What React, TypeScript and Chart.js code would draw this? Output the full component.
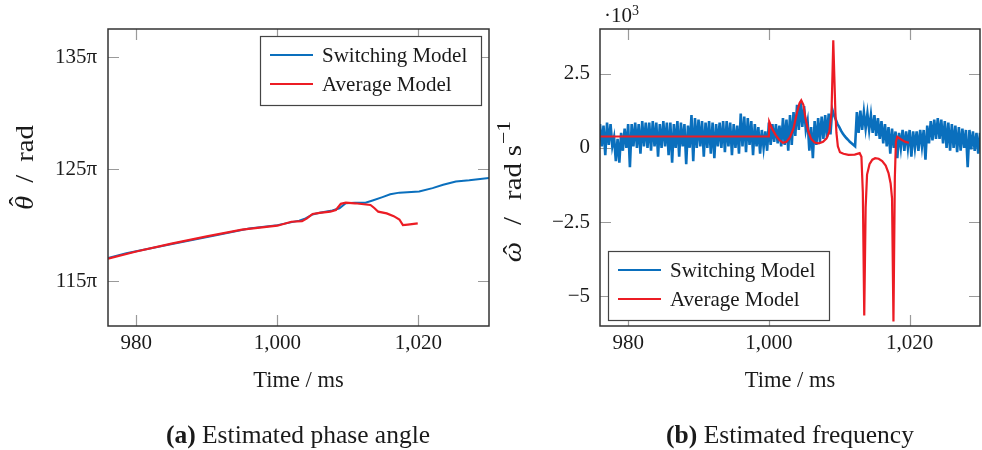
import React, { useEffect, useRef } from "react";
import { Chart, registerables } from "chart.js";

Chart.register(...registerables);

// ---------- shared ----------
const xTicks = [980, 1000, 1020];
const xMin = 976;
const xMax = 1030;

// ---------- (a) phase angle (units of pi) ----------
const phaseYTicks = [115, 125, 135];
const phaseYMin = 111;
const phaseYMax = 137.5;

const phaseSwitchT = [976, 978.6, 984.2, 991.3, 996, 1000, 1003.1, 1004, 1005, 1006, 1007.8, 1008.8, 1009.7, 1011, 1012.5, 1013.5, 1014.9, 1016, 1017.3, 1020.1, 1022, 1023.5, 1025.3, 1027.2, 1030];
const phaseSwitchV = [117.06, 117.5, 118.2, 119.1, 119.7, 120.0, 120.4, 120.6, 120.95, 121.1, 121.3, 121.5, 121.95, 122.0, 122.0, 122.2, 122.5, 122.75, 122.9, 123.0, 123.3, 123.6, 123.9, 124.0, 124.2];

const phaseAvgT = [976, 980, 985, 990, 995, 1000, 1002, 1003.5, 1004.2, 1005, 1006, 1007.5, 1008.3, 1009, 1009.7, 1011, 1013.2, 1013.7, 1014.3, 1015.5, 1016.5, 1017.3, 1017.8, 1018.5, 1019.9];
const phaseAvgV = [117.0, 117.65, 118.35, 119.0, 119.6, 119.95, 120.3, 120.35, 120.6, 121.0, 121.1, 121.2, 121.35, 121.9, 122.0, 121.95, 121.8, 121.55, 121.2, 121.05, 120.8, 120.5, 120.0, 120.05, 120.15];

// ---------- (b) frequency (x 10^3 rad/s) ----------
const freqYTicks = [-5, -2.5, 0, 2.5];
const freqYMin = -6;
const freqYMax = 4;

const freqSwitchStart = 976;
const freqSwitchStep = 0.25;
const freqSwitchV = [
  0.8, 0.05, 0.75, -0.25,
  0.85, 0.1, 0.8, 0.05,
  0.35, -0.45, 0.3, -0.5,
  0.5, -0.1, 0.65, 0.0,
  0.8, -0.65, 0.8, 0.05,
  0.85, 0.0, 0.8, -0.2,
  0.9, 0.05, 0.85, 0.0,
  0.85, -0.1, 0.9, 0.05,
  0.85, -0.3, 0.8, 0.0,
  0.9, 0.05, 0.85, -0.25,
  0.85, -0.5, 0.8, 0.0,
  0.9, -0.3, 0.85, 0.05,
  0.8, -0.55, 0.75, 0.0,
  1.1, -0.45, 1.0, 0.0,
  0.95, 0.05, 0.9, -0.3,
  0.85, 0.0, 0.9, -0.2,
  0.85, -0.35, 0.8, 0.05,
  0.85, 0.0, 0.9, -0.15,
  0.9, 0.05, 0.85, -0.25,
  0.8, 0.0, 0.75, -0.2,
  1.15, 0.05, 1.05, -0.15,
  1.0, 0.1, 0.9, -0.25,
  0.8, 0.05, 0.7, -0.2,
  0.6, 0.0, 0.55, -0.1,
  0.85, 0.1, 0.8, 0.2,
  0.8, 0.15, 0.75, 0.05,
  1.0, 0.1, 0.95, -0.1,
  1.1, 0.1, 1.2, 0.4,
  1.45, 0.6, 1.55, 0.7,
  1.4, 0.6, 0.9, -0.1,
  0.7, -0.35, 0.9, 0.1,
  1.0, 0.2, 1.05, 0.3,
  1.1, 0.35, 1.15, 0.45,
  1.3, 1.1, 0.95, 0.8,
  0.7, 0.58, 0.48, 0.4,
  0.33, 0.27, 0.2, 0.15,
  0.1, 0.05, 1.2, 0.5,
  1.25, 0.6, 1.2, 0.65,
  1.15, 0.6, 1.1, 0.5,
  1.1, 0.4, 1.0, 0.3,
  0.9, 0.15, 0.8, 0.05,
  0.7, -0.2, 0.65, 0.0,
  0.55, -0.35, 0.5, 0.0,
  0.6, -0.1, 0.55, 0.0,
  0.6, -0.3, 0.55, 0.0,
  0.55, -0.1, 0.6, 0.05,
  0.6, -0.4, 0.75, 0.15,
  0.9, 0.25, 0.95, 0.3,
  1.0, 0.3, 0.95, 0.15,
  0.9, 0.0, 0.85, -0.1,
  0.8, 0.0, 0.75, -0.15,
  0.7, -0.1, 0.65, 0.0,
  0.6, -0.65, 0.6, -0.05,
  0.55, -0.1, 0.5, -0.2,
  0.5,
];

const freqAvgT = [976, 1000, 1000.05, 1000.5, 1001, 1001.5, 1002, 1002.5, 1003, 1003.5, 1004, 1004.35, 1004.6, 1004.9, 1005.2, 1005.6, 1006, 1006.5, 1007.1, 1007.7, 1008.2, 1008.6, 1008.9, 1009.05, 1009.15, 1009.3, 1009.45, 1009.6, 1009.8, 1010.1, 1010.6, 1011.3, 1012.2, 1012.9, 1013.15, 1013.35, 1013.55, 1013.75, 1013.95, 1014.3, 1014.7, 1015.1, 1015.6, 1016.1, 1016.6, 1017.0, 1017.3, 1017.5, 1017.7, 1017.9, 1018.05, 1018.25, 1018.8, 1019.4, 1019.9];
const freqAvgV = [0.38, 0.38, 0.88, 0.62, 0.42, 0.26, 0.17, 0.2, 0.36, 0.65, 1.2, 1.5, 1.6, 1.45, 1.0, 0.55, 0.3, 0.18, 0.15, 0.2, 0.32, 0.55, 1.2, 2.6, 3.62, 2.4, 1.2, 0.5, 0.05, -0.15, -0.2, -0.24, -0.23, -0.18, -0.3, -1.5, -5.65, -2.0, -0.9, -0.55, -0.4, -0.35, -0.37, -0.45, -0.6, -0.85, -1.2, -1.7, -5.85, -1.0, 0.2, 0.37, 0.28, 0.2, 0.17];

// ---------- style ----------
const BLUE = "#0a6fbd";
const RED = "#ec1c24";
const FONT = "'Liberation Serif', 'DejaVu Serif', serif";
const TXT = "#1a1a1a";

type TitlePiece = { text: string; italic?: boolean; size?: number; rise?: number; gap?: number; hat?: boolean };

type PanelCfg = {
  yTicks: number[];
  yMin: number;
  yMax: number;
  yLabel: (v: number) => string;
  yTitle: TitlePiece[];
  yTitleX: number;
  yTitleShift: number;
  legend: { corner: "tr" | "bl" };
  area: { left: number; right: number };
  tickLabelRight: number;
  switchWidth: number;
};

const TITLE_SIZE = 25;
const TITLE_STRETCH = 1.15;

function drawYTitle(ctx: CanvasRenderingContext2D, pieces: TitlePiece[], cx: number, cy: number) {
  const fontOf = (p: TitlePiece) => `${p.italic ? "italic " : ""}${p.size ?? TITLE_SIZE}px ${FONT}`;
  let total = 0;
  const widths: number[] = [];
  for (const p of pieces) {
    ctx.font = fontOf(p);
    const w = ctx.measureText(p.text).width * TITLE_STRETCH;
    widths.push(w);
    total += (p.gap ?? 0) + w;
  }
  ctx.save();
  ctx.translate(cx, cy);
  ctx.rotate(-Math.PI / 2);
  ctx.fillStyle = TXT;
  ctx.textBaseline = "alphabetic";
  let x = -total / 2;
  const base = 8;
  pieces.forEach((p, i) => {
    x += p.gap ?? 0;
    ctx.font = fontOf(p);
    ctx.save();
    ctx.translate(x, base - (p.rise ?? 0));
    ctx.scale(TITLE_STRETCH, 1);
    ctx.textAlign = "left";
    ctx.fillText(p.text, 0, 0);
    if (p.hat) {
      const w = widths[i] / TITLE_STRETCH;
      ctx.font = `${TITLE_SIZE}px ${FONT}`;
      ctx.textAlign = "center";
      const lift = /[θ]/.test(p.text) ? TITLE_SIZE * 0.24 : 0;
      ctx.fillText("\u02C6", w * 0.6, -lift);
    }
    ctx.restore();
    x += widths[i];
  });
  ctx.restore();
}

const overlayPlugin = (cfg: PanelCfg) => ({
  id: "overlay",
  beforeDatasetsDraw(chart: any) {
    const { ctx, chartArea: a, scales } = chart;
    ctx.save();
    ctx.strokeStyle = "#9a9a9a";
    ctx.lineWidth = 1.2;
    const L = 11;
    for (const v of xTicks) {
      const x = Math.round(scales.x.getPixelForValue(v)) + 0.5;
      ctx.beginPath();
      ctx.moveTo(x, a.bottom);
      ctx.lineTo(x, a.bottom - L);
      ctx.moveTo(x, a.top);
      ctx.lineTo(x, a.top + L);
      ctx.stroke();
    }
    for (const v of cfg.yTicks) {
      const y = Math.round(scales.y.getPixelForValue(v)) + 0.5;
      ctx.beginPath();
      ctx.moveTo(a.left, y);
      ctx.lineTo(a.left + L, y);
      ctx.moveTo(a.right, y);
      ctx.lineTo(a.right - L, y);
      ctx.stroke();
    }
    ctx.restore();
  },
  afterDatasetsDraw(chart: any) {
    const { ctx, chartArea: a } = chart;
    ctx.save();
    ctx.strokeStyle = "#333";
    ctx.lineWidth = 1.5;
    ctx.strokeRect(a.left, a.top, a.right - a.left, a.bottom - a.top);
    // legend
    const w = 221, h = 69;
    let bx: number, by: number;
    if (cfg.legend.corner === "tr") {
      bx = a.right - 8 - w;
      by = a.top + 7;
    } else {
      bx = a.left + 8;
      by = a.bottom - 6 - h;
    }
    ctx.fillStyle = "#fff";
    ctx.fillRect(bx, by, w, h);
    ctx.strokeStyle = "#444";
    ctx.lineWidth = 1.2;
    ctx.strokeRect(bx + 0.5, by + 0.5, w, h);
    const rows = [19, 48];
    chart.data.datasets.forEach((ds: any, i: number) => {
      const y = by + rows[i];
      ctx.strokeStyle = ds.borderColor;
      ctx.lineWidth = 2;
      ctx.beginPath();
      ctx.moveTo(bx + 10, y);
      ctx.lineTo(bx + 53, y);
      ctx.stroke();
      ctx.fillStyle = TXT;
      ctx.font = `21px ${FONT}`;
      ctx.textBaseline = "middle";
      ctx.textAlign = "left";
      ctx.fillText(ds.label, bx + 62, y + 1);
    });
    ctx.restore();
    // y title
    drawYTitle(ctx, cfg.yTitle, cfg.yTitleX, (a.top + a.bottom) / 2 + cfg.yTitleShift);
  },
});

function Panel({ cfg, switchData, avgData, left }: { cfg: PanelCfg; switchData: any[]; avgData: any[]; left: number }) {
  const ref = useRef<HTMLCanvasElement | null>(null);
  useEffect(() => {
    if (!ref.current) return;
    const chart = new Chart(ref.current, {
      type: "line",
      data: {
        datasets: [
          { label: "Switching Model", data: switchData, borderColor: BLUE, backgroundColor: BLUE, borderWidth: cfg.switchWidth, pointRadius: 0, order: 1, tension: 0 },
          { label: "Average Model", data: avgData, borderColor: RED, backgroundColor: RED, borderWidth: 2.2, pointRadius: 0, order: 0, tension: 0 },
        ],
      },
      options: {
        responsive: false,
        animation: false,
        devicePixelRatio: 1,
        parsing: false as any,
        layout: { padding: { left: 0, right: 491 - cfg.area.right, top: 29, bottom: 0 } },
        plugins: { legend: { display: false }, tooltip: { enabled: false } },
        scales: {
          x: {
            type: "linear",
            min: xMin,
            max: xMax,
            grid: { display: false, drawTicks: false },
            border: { display: false },
            afterBuildTicks: (s: any) => {
              s.ticks = xTicks.map((v) => ({ value: v }));
            },
            afterFit: (s: any) => {
              s.height = 450 - 326;
            },
            ticks: {
              color: TXT,
              padding: 5,
              font: { family: FONT, size: 21 },
              callback: (v: any) => Number(v).toLocaleString("en-US"),
            },
            title: {
              display: true,
              text: "Time / ms",
              color: TXT,
              font: { family: FONT, size: 22.5 },
              padding: { top: 0, bottom: 55 },
            },
          },
          y: {
            type: "linear",
            min: cfg.yMin,
            max: cfg.yMax,
            grid: { display: false, drawTicks: false },
            border: { display: false },
            afterBuildTicks: (s: any) => {
              s.ticks = cfg.yTicks.map((v) => ({ value: v }));
            },
            afterFit: (s: any) => {
              s.width = cfg.area.left;
            },
            ticks: {
              color: TXT,
              padding: cfg.area.left - cfg.tickLabelRight,
              font: { family: FONT, size: 21 },
              callback: (v: any) => cfg.yLabel(Number(v)),
            },
            title: { display: false },
          },
        },
      },
      plugins: [overlayPlugin(cfg)],
    } as any);
    return () => chart.destroy();
  }, []);
  return <canvas ref={ref} width={491} height={450} style={{ position: "absolute", left, top: 0, width: 491, height: 450 }} />;
}

const phaseCfg: PanelCfg = {
  yTicks: phaseYTicks,
  yMin: phaseYMin,
  yMax: phaseYMax,
  yLabel: (v) => `${v}π`,
  yTitle: [
    { text: "θ", italic: true, hat: true },
    { text: "/", gap: 13 },
    { text: "rad", gap: 13 },
  ],
  yTitleX: 25,
  yTitleShift: -10,
  legend: { corner: "tr" },
  area: { left: 108, right: 489 },
  tickLabelRight: 97,
  switchWidth: 2,
};

const freqCfg: PanelCfg = {
  yTicks: freqYTicks,
  yMin: freqYMin,
  yMax: freqYMax,
  yLabel: (v) => (v < 0 ? "\u2212" + String(Math.abs(v)) : String(v)),
  yTitle: [
    { text: "ω", italic: true, hat: true },
    { text: "/", gap: 17 },
    { text: "rad", gap: 17 },
    { text: "s", gap: 7 },
    { text: "\u22121", size: 19, rise: 11, gap: 1 },
  ],
  yTitleX: 22,
  yTitleShift: 14,
  legend: { corner: "bl" },
  area: { left: 109, right: 489 },
  tickLabelRight: 99,
  switchWidth: 2.6,
};

export default function App() {
  const phaseSwitch = phaseSwitchT.map((t, i) => ({ x: t, y: phaseSwitchV[i] }));
  const phaseAvg = phaseAvgT.map((t, i) => ({ x: t, y: phaseAvgV[i] }));
  const freqSwitch = freqSwitchV.map((v, i) => ({ x: freqSwitchStart + i * freqSwitchStep, y: v }));
  const freqAvg = freqAvgT.map((t, i) => ({ x: t, y: freqAvgV[i] }));
  const cap: React.CSSProperties = {
    position: "absolute",
    top: 421,
    fontFamily: FONT,
    fontSize: 25.5,
    color: TXT,
    whiteSpace: "nowrap",
    transform: "translateX(-50%)",
    lineHeight: "28px",
  };
  return (
    <div style={{ position: "absolute", left: 0, top: 0, width: 982, height: 450, background: "#fff", overflow: "hidden" }}>
      <Panel cfg={phaseCfg} switchData={phaseSwitch} avgData={phaseAvg} left={0} />
      <Panel cfg={freqCfg} switchData={freqSwitch} avgData={freqAvg} left={491} />
      <div style={{ position: "absolute", left: 604, top: 3, fontFamily: FONT, fontSize: 21, color: TXT, lineHeight: "24px" }}>
        ·10<sup style={{ fontSize: 14, verticalAlign: "7px", lineHeight: 0 }}>3</sup>
      </div>
      <div style={{ ...cap, left: 298 }}>
        <b>(a)</b> Estimated phase angle
      </div>
      <div style={{ ...cap, left: 790 }}>
        <b>(b)</b> Estimated frequency
      </div>
    </div>
  );
}
